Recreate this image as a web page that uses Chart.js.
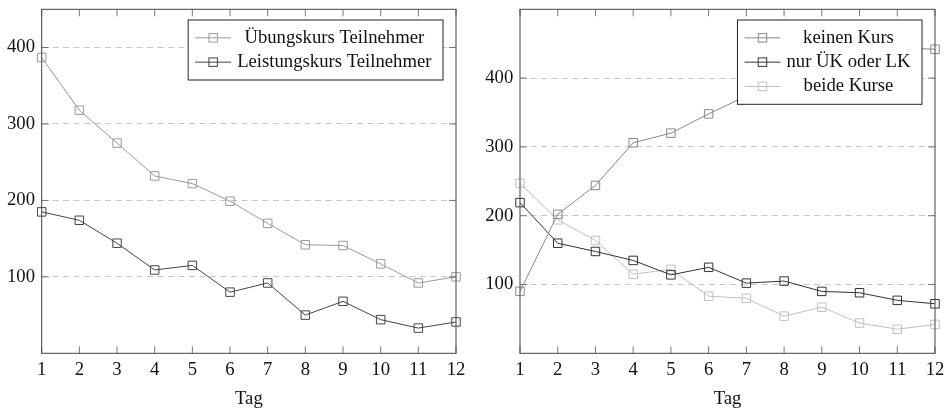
<!DOCTYPE html>
<html>
<head>
<meta charset="utf-8">
<script src="https://cdn.jsdelivr.net/npm/chart.js@4/dist/chart.umd.min.js"></script>
<style>
html, body { margin: 0; padding: 0; background: #fff; }
#wrap { display: flex; width: 949px; height: 410px; }
.box { position: relative; height: 410px; }
</style>
</head>
<body>
<div id="wrap">
    <div class="box" style="width:475px"><canvas id="leftChart"></canvas></div>
    <div class="box" style="width:474px"><canvas id="rightChart"></canvas></div>
</div>
<script>
// Tag 1..12
const days = ["1", "2", "3", "4", "5", "6", "7", "8", "9", "10", "11", "12"];
const yTicks = [100, 200, 300, 400];

// linkes Diagramm
const uebungskurs = [387, 318, 275, 232, 222, 199, 170, 142, 141, 117, 92, 100];
const leistungskurs = [185, 174, 144, 109, 115, 80, 92, 50, 68, 44, 33, 41];

// rechtes Diagramm
const keinenKurs = [90, 202, 244, 306, 320, 348, 374, 397, 399, 424, 444, 442];
const nurUkOderLk = [219, 160, 148, 135, 114, 125, 102, 105, 90, 88, 77, 72];
const beideKurse = [247, 194, 164, 115, 122, 83, 80, 54, 67, 44, 35, 42];

const FONT_SIZE = 18.7;
const FONT = FONT_SIZE + "px 'Liberation Serif', serif";

Chart.defaults.font.family = "'Liberation Serif', serif";
Chart.defaults.font.size = FONT_SIZE;
Chart.defaults.color = "#111";

// Rahmen + Striche nach innen (wie pgfplots)
const frame = {
    id: "frame",
    afterDatasetsDraw(chart) {
        const { ctx, chartArea: a, scales: { x, y } } = chart;
        ctx.save();
        ctx.lineWidth = 1;
        ctx.strokeStyle = "#777";
        ctx.beginPath();
        x.ticks.forEach((t, i) => {
            const px = x.getPixelForTick(i);
            ctx.moveTo(px, a.bottom); ctx.lineTo(px, a.bottom - 7);
            ctx.moveTo(px, a.top); ctx.lineTo(px, a.top + 7);
        });
        y.ticks.forEach((t, i) => {
            const py = y.getPixelForTick(i);
            ctx.moveTo(a.left, py); ctx.lineTo(a.left + 7, py);
            ctx.moveTo(a.right, py); ctx.lineTo(a.right - 7, py);
        });
        ctx.stroke();
        ctx.strokeStyle = "#444";
        ctx.strokeRect(a.left, a.top, a.width, a.height);
        ctx.restore();
    }
};

// Legende im Diagramm, oben rechts, weiss hinterlegt
const boxLegend = {
    id: "boxLegend",
    afterDraw(chart) {
        const { ctx, chartArea: a } = chart;
        const sets = chart.data.datasets;
        ctx.save();
        ctx.font = FONT;
        const textW = Math.max(...sets.map(d => ctx.measureText(d.label).width));
        const rowH = 24.3;
        const w = 7 + 36 + 6 + textW + 11.5;
        const h = sets.length * rowH + 11.4;
        const x0 = a.right - 13 - w;
        const y0 = a.top + 10.7;
        ctx.fillStyle = "#fff";
        ctx.fillRect(x0, y0, w, h);
        ctx.lineWidth = 1;
        ctx.strokeStyle = "#222";
        ctx.strokeRect(x0, y0, w, h);
        sets.forEach((d, i) => {
            const cy = y0 + 5.7 + rowH * (i + 0.5);
            ctx.strokeStyle = d.borderColor;
            ctx.beginPath();
            ctx.moveTo(x0 + 7, cy);
            ctx.lineTo(x0 + 43, cy);
            ctx.stroke();
            ctx.strokeRect(x0 + 25 - 4.25, cy - 4.25, 8.5, 8.5);
            ctx.fillStyle = "#111";
            ctx.textAlign = "center";
            ctx.textBaseline = "middle";
            ctx.fillText(d.label, x0 + 49 + textW / 2, cy);
        });
        ctx.restore();
    }
};

function series(label, data, color) {
    return {
        label: label,
        data: data,
        borderColor: color,
        borderWidth: 1,
        pointStyle: "rect",
        pointRadius: 6,
        pointBorderWidth: 1,
        pointBorderColor: color,
        pointBackgroundColor: "rgba(0,0,0,0)",
        tension: 0,
        fill: false
    };
}

function makeChart(id, datasets, yMax, yWidth, padRight) {
    return new Chart(document.getElementById(id).getContext("2d"), {
        type: "line",
        data: { labels: days, datasets: datasets },
        options: {
            responsive: true,
            maintainAspectRatio: false,
            animation: false,
            layout: { padding: { top: 9.3, right: padRight, left: 0, bottom: 0 } },
            plugins: { legend: { display: false }, tooltip: { enabled: false } },
            scales: {
                x: {
                    type: "category",
                    offset: false,
                    grid: { display: false, drawTicks: false },
                    border: { display: false },
                    ticks: { padding: 6, maxRotation: 0, autoSkip: false },
                    title: { display: true, text: "Tag", padding: { top: 0, bottom: 0 } },
                    afterFit: s => { s.height = 56.7; s.paddingLeft = 0; s.paddingRight = 0; }
                },
                y: {
                    min: 0,
                    max: yMax,
                    grid: { color: "#c8c8c8", drawTicks: false },
                    border: { display: false, dash: [6, 4.5] },
                    ticks: { padding: 6.7 },
                    afterBuildTicks: s => { s.ticks = yTicks.map(v => ({ value: v })); },
                    afterFit: s => { s.width = yWidth; s.paddingTop = 0; s.paddingBottom = 0; }
                }
            }
        },
        plugins: [frame, boxLegend]
    });
}

const leftChart = makeChart("leftChart", [
    series("Übungskurs Teilnehmer", uebungskurs, "#9a9a9a"),
    series("Leistungskurs Teilnehmer", leistungskurs, "#444")
], 450, 41.7, 19);

const rightChart = makeChart("rightChart", [
    series("keinen Kurs", keinenKurs, "#888"),
    series("nur ÜK oder LK", nurUkOderLk, "#333"),
    series("beide Kurse", beideKurse, "#c0c0c0")
], 500, 45, 14);
</script>
</body>
</html>
